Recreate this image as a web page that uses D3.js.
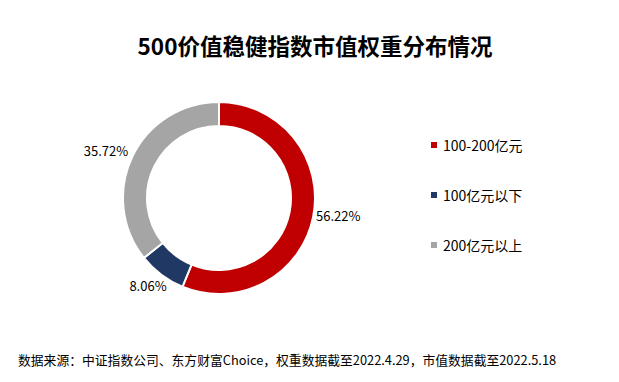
<!DOCTYPE html>
<html><head><meta charset="utf-8">
<script src="https://cdn.jsdelivr.net/npm/d3@7"></script>
<style>body{margin:0;background:#fff;}svg{display:block;font-family:"Microsoft YaHei","Noto Sans CJK SC",sans-serif;}</style>
</head><body>
<svg id="c" width="619" height="382"></svg>
<script>
const categories = ["100-200亿元", "100亿元以下", "200亿元以上"];
const values = [56.22, 8.06, 35.72];
const colors = ["#C00000", "#1F3864", "#A5A5A5"];
const labels = ["56.22%", "8.06%", "35.72%"];
const title = "500价值稳健指数市值权重分布情况";
const source = "数据来源：中证指数公司、东方财富Choice，权重数据截至2022.4.29，市值数据截至2022.5.18";

const svg = d3.select("#c");
svg.append("text").attr("x", 315).attr("y", 55).attr("text-anchor", "middle")
  .attr("font-size", 22.5).attr("font-weight", "bold").attr("fill", "#000").text(title);

const cx = 219, cy = 198, R = 96, r = 72;
const pie = d3.pie().sort(null).value(d => d)(values);
const arc = d3.arc().innerRadius(r).outerRadius(R);
const g = svg.append("g").attr("transform", `translate(${cx},${cy})`);
g.selectAll("path").data(pie).join("path")
  .attr("d", arc).attr("fill", (d, i) => colors[i])
  .attr("stroke", "#fff").attr("stroke-width", 2);

const labelPos = [[316, 221, "start"], [148, 291, "middle"], [106, 156, "middle"]];
svg.selectAll("text.lbl").data(labels).join("text").attr("class", "lbl")
  .attr("x", (d, i) => labelPos[i][0]).attr("y", (d, i) => labelPos[i][1])
  .attr("text-anchor", (d, i) => labelPos[i][2])
  .attr("font-size", 13).attr("fill", "#000").text(d => d);

const leg = svg.append("g");
const ly = d3.scalePoint().domain(categories).range([146, 246]);
categories.forEach((c, i) => {
  leg.append("rect").attr("x", 431).attr("y", ly(c) - 4).attr("width", 6).attr("height", 6).attr("fill", colors[i]);
  leg.append("text").attr("x", 443).attr("y", ly(c) + 4.5).attr("font-size", 14).attr("fill", "#000").text(c);
});

svg.append("text").attr("x", 18).attr("y", 365).attr("font-size", 12.8).attr("fill", "#000").text(source);
</script>
</body></html>
